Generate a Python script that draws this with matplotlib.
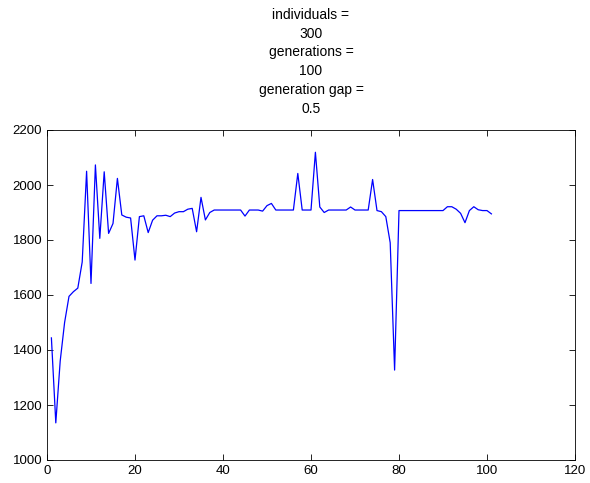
import matplotlib
matplotlib.use("Agg")
import matplotlib.pyplot as plt

plt.rcParams['font.family'] = ['Liberation Sans', 'DejaVu Sans']

generations = list(range(1, 102))
best_fitness = [
    1444, 1135, 1360, 1500, 1595, 1612, 1625, 1720, 2050, 1642,
    2073, 1806, 2048, 1824, 1860, 2024, 1891, 1883, 1880, 1727,
    1885, 1888, 1827, 1872, 1888, 1888, 1890, 1885, 1898, 1903,
    1903, 1912, 1915, 1830, 1955, 1873, 1900, 1909, 1909, 1909,
    1909, 1909, 1909, 1909, 1887, 1909, 1909, 1909, 1905, 1925,
    1933, 1909, 1909, 1909, 1909, 1909, 2042, 1909, 1909, 1909,
    2119, 1920, 1900, 1909, 1909, 1909, 1909, 1909, 1920, 1909,
    1909, 1909, 1909, 2020, 1907, 1903, 1885, 1790, 1327, 1907,
    1907, 1907, 1907, 1907, 1907, 1907, 1907, 1907, 1907, 1907,
    1921, 1921, 1912, 1897, 1863, 1907, 1921, 1910, 1907, 1907,
    1895,
]
title_lines = ["individuals =", "300", "generations =", "100", "generation gap =", "0.5"]
xticks = [0, 20, 40, 60, 80, 100, 120]
yticks = [1000, 1200, 1400, 1600, 1800, 2000, 2200]

fig = plt.figure(figsize=(5.9, 4.83), dpi=100)
ax = fig.add_axes([47/590, 23/483, 528/590, 330/483])
ax.plot(generations, best_fitness, color=(0, 0, 1), linewidth=0.9)
ax.set_xlim(0, 120)
ax.set_ylim(1000, 2200)
ax.set_xticks(xticks)
ax.set_yticks(yticks)
ax.tick_params(direction='in', top=True, right=True, labelsize=9.5, length=4, width=0.6)
for s in ax.spines.values():
    s.set_linewidth(0.6)
ax.set_title("\n".join(title_lines), fontsize=10, linespacing=1.45, pad=12)
fig.savefig("out.png", dpi=100)
